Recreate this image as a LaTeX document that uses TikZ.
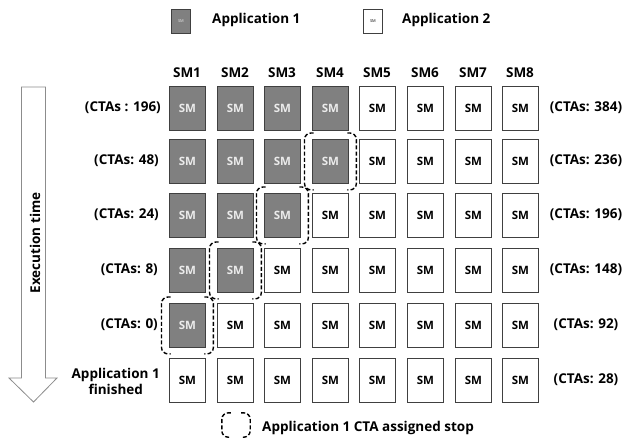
\documentclass[tikz,border=0pt]{standalone}
\usepackage{fontspec}
\setmainfont{Open Sans}
\newcommand\brkt[1]{%
  \draw[brk] ([shift={(1.5,-6)}]#1.north west) -- ([shift={(-7.5,-6)}]#1.north west) -- ([shift={(-7.5,6)}]#1.south west) -- ([shift={(1.5,6)}]#1.south west);
  \draw[brk] ([shift={(-1.5,-6)}]#1.north east) -- ([shift={(7.5,-6)}]#1.north east) -- ([shift={(7.5,6)}]#1.south east) -- ([shift={(-1.5,6)}]#1.south east);}
\begin{document}
\begin{tikzpicture}[x=1pt,y=-1pt,
  smbox/.style={draw=black!75, line width=0.9pt, minimum width=36pt, minimum height=44pt, inner sep=0pt, anchor=north west, font=\bfseries\fontsize{11.5}{12}\selectfont},
  gbox/.style={smbox, fill=black!50, text=black!8},
  wbox/.style={smbox, fill=white, text=black},
  lbl/.style={font=\bfseries\fontsize{13.5}{16}\selectfont, inner sep=0pt},
  brk/.style={draw=black, line width=1.4pt, dash pattern=on 4pt off 2.2pt, rounded corners=6.5pt},
  arrowline/.style={draw=black!45, line width=0.8pt, fill=white}]
\useasboundingbox (0,0) rectangle (629,439);

% legend
\node[gbox, minimum width=19pt, minimum height=24pt, font=\fontsize{4}{4}\selectfont] (lg1) at (171,9) {SM};
\node[lbl, anchor=west] (lt1) at (212,20) {Application 1};
\node[wbox, minimum width=19pt, minimum height=24pt, font=\fontsize{4}{4}\selectfont] (lg2) at (363,9) {SM};
\node[lbl, anchor=west] (lt2) at (402,20) {Application 2};

% time arrow
\draw[arrowline] (21.5,87) -- (45.5,87) -- (45.5,378) -- (57,378) -- (33.5,402) -- (9,378) -- (21.5,378) -- cycle;
\node[lbl, rotate=90] (et) at (35,243) {Execution time};

% column headers
\foreach \c/\x in {1/169,2/217,3/264,4/312,5/359,6/407,7/455,8/502}
  \node[lbl] (h\c) at (\x+18,73) {SM\c};

% grid
\foreach \r/\y/\g in {1/86/4,2/139/4,3/193/3,4/248/2,5/303/1,6/358/0}{
  \foreach \c/\x in {1/169,2/217,3/264,4/312,5/359,6/407,7/455,8/502}{
    \ifnum\c>\g
      \node[wbox] (b\r\c) at (\x,\y) {SM};
    \else
      \node[gbox] (b\r\c) at (\x,\y) {SM};
    \fi
  }
}

% brackets
\brkt{b24}
\brkt{b33}
\brkt{b42}
\brkt{b51}

% left labels
\node[lbl, anchor=east] (l1) at (161,108) {(CTAs : 196)};
\node[lbl, anchor=east] (l2) at (159,161) {(CTAs: 48)};
\node[lbl, anchor=east] (l3) at (159,215) {(CTAs: 24)};
\node[lbl, anchor=east] (l4) at (158,270) {(CTAs: 8)};
\node[lbl, anchor=east] (l5) at (158,325) {(CTAs: 0)};
\node[lbl, anchor=east, align=center] (l6) at (160,381) {Application 1\\finished};

% right labels
\node[lbl] (r1) at (586,108) {(CTAs: 384)};
\node[lbl] (r2) at (586,161) {(CTAs: 236)};
\node[lbl] (r3) at (586,215) {(CTAs: 196)};
\node[lbl] (r4) at (586,270) {(CTAs: 148)};
\node[lbl] (r5) at (586,325) {(CTAs: 92)};
\node[lbl] (r6) at (586,380) {(CTAs: 28)};

% bottom legend
\node[minimum width=13pt, minimum height=12pt, inner sep=0pt] (lgb) at (236,425) {};
\brkt{lgb}
\node[lbl, anchor=west] (lbt) at (262,428) {Application 1 CTA assigned stop};
\end{tikzpicture}
\end{document}
